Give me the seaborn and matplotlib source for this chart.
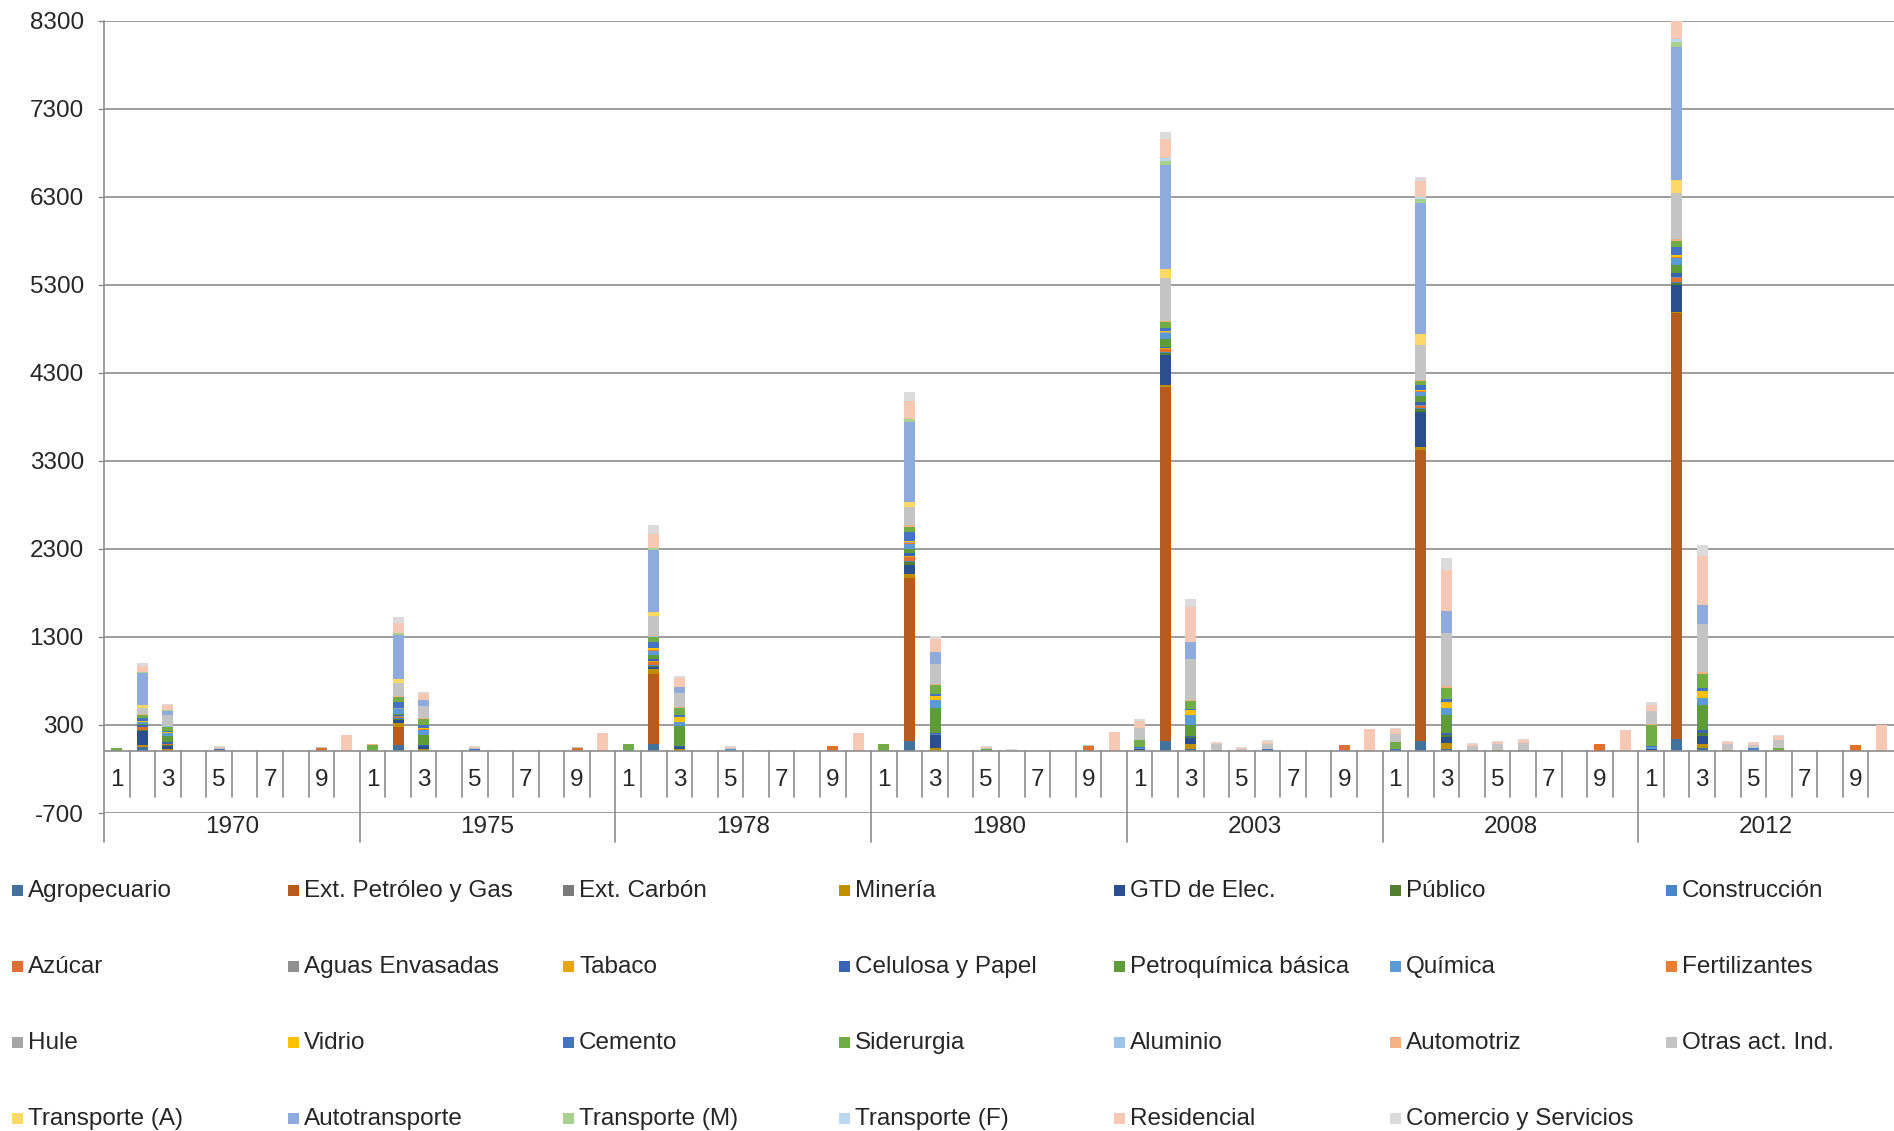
import numpy as np
import pandas as pd
import matplotlib
matplotlib.use("Agg")
import matplotlib.pyplot as plt
from matplotlib.patches import Rectangle
import seaborn as sns

# === DATA ===
anios = ["1970", "1975", "1978", "1980", "2003", "2008", "2012"]
subcategorias = [1, 2, 3, 4, 5, 6, 7, 8, 9, 10]
etiquetas_sub = ["1", "", "3", "", "5", "", "7", "", "9", ""]

sectores = ["Agropecuario", "Ext. Petróleo y Gas", "Ext. Carbón", "Minería", "GTD de Elec.",
            "Público", "Construcción", "Azúcar", "Aguas Envasadas", "Tabaco",
            "Celulosa y Papel", "Petroquímica básica", "Química", "Fertilizantes", "Hule",
            "Vidrio", "Cemento", "Siderurgia", "Aluminio", "Automotriz",
            "Otras act. Ind.", "Transporte (A)", "Autotransporte", "Transporte (M)",
            "Transporte (F)", "Residencial", "Comercio y Servicios"]

colores = ["#41719C", "#B85B1F", "#7B7B7B", "#BF8F00", "#2A4E8E",
           "#4F7F2F", "#4A87C6", "#E0702F", "#8F8F8F", "#E6A800",
           "#3A62B5", "#5E9C3A", "#5B9BD5", "#ED7D31", "#A5A5A5",
           "#FFC000", "#4472C4", "#70AD47", "#9DC3E6", "#F4B183",
           "#C4C4C4", "#FFD966", "#8FAADC", "#A9D18E",
           "#BDD7EE", "#F7C8B4", "#DBDBDB"]

# 7 years x 10 sub-categories each
agropecuario = [0, 45, 0, 0, 0, 0, 0, 0, 0, 0,  0, 68, 0, 0, 0, 0, 0, 0, 0, 0,  0, 87, 0, 0, 0, 0, 0, 0, 0, 0,
                0, 117, 0, 0, 0, 0, 0, 0, 0, 0,  0, 113, 26, 0, 0, 0, 0, 0, 0, 0,  0, 120, 29, 0, 0, 0, 0, 0, 0, 0,
                0, 142, 42, 0, 0, 0, 0, 0, 0, 0]
ext_petroleo_gas = [0, 0, 0, 0, 0, 0, 0, 0, 0, 0,  0, 212, 0, 0, 0, 0, 0, 0, 0, 0,  0, 795, 0, 0, 0, 0, 0, 0, 0, 0,
                    0, 1852, 0, 0, 0, 0, 0, 0, 0, 0,  0, 4025, 0, 0, 0, 0, 0, 0, 0, 0,  0, 3305, 0, 0, 0, 0, 0, 0, 0, 0,
                    0, 4835, 0, 0, 0, 0, 0, 0, 0, 0]
ext_carbon = [0, 0, 0, 0, 0, 0, 0, 0, 0, 0,  0, 0, 0, 0, 0, 0, 0, 0, 0, 0,  0, 0, 0, 0, 0, 0, 0, 0, 0, 0,
              0, 0, 0, 0, 0, 0, 0, 0, 0, 0,  0, 0, 0, 0, 0, 0, 0, 0, 0, 0,  0, 0, 0, 0, 0, 0, 0, 0, 0, 0,
              0, 0, 0, 0, 0, 0, 0, 0, 0, 0]
mineria = [0, 23, 23, 0, 10, 0, 0, 0, 0, 0,  0, 45, 23, 0, 0, 0, 0, 0, 0, 0,  0, 57, 27, 0, 0, 0, 0, 0, 0, 0,
           0, 49, 38, 0, 0, 0, 0, 0, 0, 0,  15, 26, 62, 0, 0, 0, 0, 0, 0, 0,  0, 33, 67, 0, 10, 0, 0, 0, 0, 0,
           15, 18, 42, 10, 0, 0, 0, 0, 0, 0]
gtd_elec = [0, 160, 40, 0, 0, 0, 0, 0, 0, 0,  0, 30, 38, 0, 0, 0, 0, 0, 0, 0,  0, 20, 23, 0, 0, 0, 0, 0, 0, 0,
            0, 102, 144, 0, 0, 0, 0, 0, 0, 0,  15, 334, 67, 0, 0, 0, 0, 0, 0, 0,  10, 397, 62, 0, 0, 0, 0, 0, 0, 0,
            15, 297, 89, 0, 0, 0, 0, 0, 0, 0]
publico = [0, 10, 10, 0, 0, 0, 0, 0, 0, 0,  0, 12, 0, 0, 0, 0, 0, 0, 0, 0,  0, 10, 0, 0, 0, 0, 0, 0, 0, 0,
           0, 30, 0, 0, 0, 0, 0, 0, 0, 0,  0, 26, 10, 0, 0, 0, 0, 0, 0, 0,  0, 33, 30, 0, 0, 0, 0, 0, 0, 0,
           0, 30, 35, 0, 0, 0, 0, 0, 0, 0]
construccion = [0, 10, 0, 0, 0, 0, 0, 0, 0, 0,  0, 10, 0, 0, 10, 0, 0, 0, 0, 0,  0, 8, 0, 0, 15, 0, 0, 0, 0, 0,
                0, 8, 15, 0, 10, 0, 0, 0, 0, 0,  0, 8, 0, 0, 0, 12, 0, 0, 0, 0,  0, 8, 0, 0, 0, 8, 0, 0, 0, 0,
                0, 8, 0, 0, 40, 0, 0, 0, 0, 0]
azucar = [0, 25, 5, 0, 0, 0, 0, 0, 40, 0,  0, 15, 0, 0, 0, 0, 0, 0, 42, 0,  0, 38, 0, 0, 0, 0, 0, 0, 60, 0,
          0, 45, 0, 0, 0, 0, 0, 0, 60, 0,  0, 36, 0, 0, 0, 0, 0, 0, 72, 0,  0, 30, 0, 0, 0, 0, 0, 0, 80, 0,
          0, 47, 0, 0, 0, 10, 0, 0, 71, 0]
aguas_envasadas = [0, 5, 0, 0, 0, 0, 0, 0, 0, 0,  0, 5, 0, 0, 0, 0, 0, 0, 0, 0,  0, 5, 0, 0, 0, 0, 0, 0, 0, 0,
                   0, 5, 0, 0, 0, 0, 0, 0, 0, 0,  0, 5, 0, 0, 0, 0, 0, 0, 0, 0,  0, 5, 0, 0, 0, 0, 0, 0, 0, 0,
                   0, 5, 0, 0, 0, 0, 0, 0, 0, 0]
tabaco = [0, 3, 5, 0, 0, 0, 0, 0, 0, 0,  0, 5, 0, 0, 0, 0, 0, 0, 0, 0,  0, 5, 0, 0, 0, 0, 0, 0, 0, 0,
          0, 5, 0, 0, 0, 0, 0, 0, 0, 0,  0, 5, 0, 0, 0, 0, 0, 0, 0, 0,  0, 5, 0, 0, 0, 0, 0, 0, 0, 0,
          0, 5, 0, 0, 0, 0, 0, 0, 0, 0]
celulosa_papel = [0, 15, 25, 0, 0, 0, 0, 0, 0, 0,  0, 10, 8, 0, 0, 0, 0, 0, 0, 0,  0, 25, 10, 0, 0, 0, 0, 0, 0, 0,
                  0, 38, 15, 0, 0, 0, 0, 0, 0, 0,  0, 15, 10, 0, 0, 0, 0, 0, 0, 0,  0, 27, 20, 0, 0, 0, 0, 0, 0, 0,
                  0, 40, 35, 0, 0, 0, 0, 0, 0, 0]
petroquimica = [0, 10, 65, 0, 0, 0, 0, 0, 0, 0,  0, 15, 121, 0, 0, 0, 0, 0, 0, 0,  0, 50, 227, 0, 0, 0, 0, 0, 0, 0,
                0, 49, 284, 0, 0, 0, 0, 0, 0, 0,  0, 87, 128, 0, 0, 0, 0, 0, 0, 0,  0, 76, 201, 0, 0, 0, 0, 0, 0, 0,
                0, 95, 279, 0, 0, 0, 0, 0, 0, 0]
quimica = [0, 25, 30, 0, 0, 0, 0, 0, 0, 0,  0, 50, 53, 0, 0, 0, 0, 0, 0, 0,  0, 38, 45, 0, 10, 0, 0, 0, 0, 0,
           0, 57, 83, 0, 10, 0, 0, 0, 0, 0,  10, 67, 113, 0, 0, 0, 0, 0, 0, 0,  10, 43, 86, 5, 0, 0, 0, 0, 0, 0,
           15, 83, 89, 10, 0, 10, 0, 0, 0, 0]
fertilizantes = [0, 5, 5, 0, 0, 0, 0, 0, 0, 0,  0, 5, 10, 0, 0, 0, 0, 0, 0, 0,  0, 8, 0, 0, 0, 0, 0, 0, 0, 0,
                 0, 13, 0, 0, 0, 0, 0, 0, 0, 0,  0, 8, 0, 0, 0, 0, 0, 0, 0, 0,  0, 8, 0, 0, 0, 0, 0, 0, 0, 0,
                 0, 8, 0, 0, 0, 0, 0, 0, 0, 0]
hule = [0, 3, 5, 0, 0, 0, 0, 0, 0, 0,  0, 5, 0, 0, 0, 0, 0, 0, 0, 0,  0, 5, 0, 0, 0, 0, 0, 0, 0, 0,
        0, 5, 0, 0, 0, 0, 0, 0, 0, 0,  0, 5, 0, 0, 0, 0, 0, 0, 0, 0,  0, 5, 0, 0, 0, 0, 0, 0, 0, 0,
        0, 5, 0, 0, 0, 0, 0, 0, 0, 0]
vidrio = [0, 8, 10, 0, 0, 0, 0, 0, 0, 0,  0, 10, 15, 0, 0, 0, 0, 0, 0, 0,  0, 19, 53, 0, 0, 0, 0, 0, 0, 0,
          0, 13, 45, 0, 0, 0, 0, 0, 0, 0,  0, 10, 51, 0, 0, 0, 0, 0, 0, 0,  0, 14, 67, 0, 0, 0, 0, 0, 0, 0,
          0, 18, 77, 0, 0, 0, 0, 0, 0, 0]
cemento = [0, 35, 10, 0, 15, 0, 0, 0, 0, 0,  0, 65, 30, 0, 15, 0, 0, 0, 0, 0,  0, 76, 23, 0, 0, 0, 0, 0, 0, 0,
           0, 98, 30, 0, 0, 0, 0, 0, 0, 0,  10, 41, 15, 0, 0, 13, 0, 0, 0, 0,  8, 48, 29, 0, 10, 0, 0, 0, 0, 0,
           15, 89, 30, 0, 0, 0, 0, 0, 0, 0]
siderurgia = [35, 30, 45, 0, 0, 0, 0, 0, 0, 0,  75, 57, 72, 0, 0, 0, 0, 0, 0, 0,  80, 57, 83, 0, 0, 0, 0, 0, 0, 0,
              80, 57, 95, 0, 5, 0, 0, 0, 0, 0,  77, 61, 87, 10, 0, 0, 0, 0, 0, 0,  82, 48, 129, 5, 0, 10, 0, 0, 0, 0,
              244, 71, 166, 0, 0, 15, 0, 0, 0, 0]
aluminio = [0, 3, 5, 0, 0, 0, 0, 0, 0, 0,  0, 3, 0, 0, 0, 0, 0, 0, 0, 0,  0, 3, 0, 0, 0, 0, 0, 0, 0, 0,
            0, 3, 0, 0, 0, 0, 0, 0, 0, 0,  0, 3, 0, 0, 0, 0, 0, 0, 0, 0,  0, 3, 0, 0, 0, 0, 0, 0, 0, 0,
            0, 3, 0, 0, 0, 0, 0, 0, 0, 0]
automotriz = [0, 5, 5, 0, 0, 0, 0, 0, 0, 0,  6, 5, 5, 0, 0, 0, 0, 0, 0, 0,  0, 15, 15, 0, 0, 0, 0, 0, 0, 0,
              0, 23, 19, 0, 0, 0, 0, 0, 0, 0,  5, 10, 15, 0, 0, 0, 0, 0, 0, 0,  0, 10, 24, 0, 0, 0, 0, 0, 0, 0,
              5, 18, 18, 0, 0, 0, 0, 0, 0, 0]
otras_ind = [0, 75, 130, 0, 15, 0, 0, 0, 5, 0,  0, 155, 140, 0, 15, 0, 0, 0, 8, 0,  0, 216, 159, 0, 10, 0, 0, 0, 0, 0,
             0, 208, 220, 0, 10, 0, 0, 0, 8, 0,  135, 493, 463, 70, 25, 60, 0, 0, 5, 0,  90, 397, 598, 55, 60, 80, 0, 0, 5, 0,
             144, 522, 540, 60, 35, 95, 0, 0, 0, 0]
transporte_a = [0, 26, 0, 0, 0, 0, 0, 0, 0, 0,  0, 45, 0, 0, 0, 0, 0, 0, 0, 0,  0, 42, 0, 0, 0, 0, 0, 0, 0, 0,
                0, 53, 0, 0, 0, 0, 0, 0, 0, 0,  0, 102, 0, 0, 0, 0, 0, 0, 0, 0,  0, 129, 0, 0, 0, 0, 0, 0, 0, 0,
                0, 148, 0, 0, 0, 0, 0, 0, 0, 0]
autotransporte = [0, 370, 45, 0, 0, 0, 0, 0, 0, 0,  0, 500, 64, 0, 0, 0, 0, 0, 0, 0,  0, 708, 68, 0, 0, 0, 0, 0, 0, 0,
                  0, 916, 140, 0, 0, 0, 0, 0, 0, 0,  0, 1177, 190, 0, 0, 0, 0, 0, 0, 0,  0, 1483, 249, 0, 0, 0, 0, 0, 0, 0,
                  0, 1513, 225, 0, 0, 0, 0, 0, 0, 0]
transporte_m = [0, 8, 3, 0, 0, 0, 0, 0, 0, 0,  0, 15, 0, 0, 0, 0, 0, 0, 0, 0,  0, 23, 0, 0, 0, 0, 0, 0, 0, 0,
                0, 26, 0, 0, 0, 0, 0, 0, 0, 0,  0, 51, 0, 0, 0, 0, 0, 0, 0, 0,  0, 48, 0, 0, 0, 0, 0, 0, 0, 0,
                0, 53, 0, 0, 0, 0, 0, 0, 0, 0]
transporte_f = [0, 5, 0, 0, 0, 0, 0, 0, 0, 0,  0, 5, 0, 0, 0, 0, 0, 0, 0, 0,  0, 5, 0, 0, 0, 0, 0, 0, 0, 0,
                0, 5, 0, 0, 0, 0, 0, 0, 0, 0,  0, 26, 0, 0, 0, 0, 0, 0, 0, 0,  0, 19, 0, 0, 0, 0, 0, 0, 0, 0,
                0, 36, 0, 0, 0, 0, 0, 0, 0, 0]
residencial = [0, 64, 55, 0, 15, 0, 0, 0, 0, 185,  0, 106, 87, 0, 15, 0, 0, 0, 0, 205,  0, 155, 98, 0, 15, 0, 0, 0, 0, 205,
               0, 201, 151, 0, 12, 15, 0, 0, 0, 220,  77, 221, 401, 15, 15, 25, 0, 0, 0, 255,
               55, 182, 469, 20, 25, 30, 0, 0, 0, 245,  72, 249, 546, 25, 20, 40, 0, 0, 0, 295]
comercio = [0, 38, 20, 0, 10, 0, 0, 0, 0, 0,  0, 68, 8, 0, 10, 12, 0, 0, 0, 0,  0, 95, 23, 0, 10, 15, 0, 0, 0, 0,
            0, 106, 26, 0, 10, 8, 0, 0, 0, 0,  26, 77, 87, 8, 10, 15, 0, 0, 0, 0,  15, 48, 134, 10, 15, 15, 0, 0, 0, 0,
            33, 60, 125, 13, 12, 20, 0, 0, 0, 0]

valores = [agropecuario, ext_petroleo_gas, ext_carbon, mineria, gtd_elec, publico, construccion,
           azucar, aguas_envasadas, tabaco, celulosa_papel, petroquimica, quimica, fertilizantes,
           hule, vidrio, cemento, siderurgia, aluminio, automotriz, otras_ind, transporte_a,
           autotransporte, transporte_m, transporte_f, residencial, comercio]

n_pos = len(anios) * len(subcategorias)

# long table for seaborn
filas = []
for nombre, serie in zip(sectores, valores):
    assert len(serie) == n_pos, nombre
    for i, v in enumerate(serie):
        filas.append({"posicion": i, "sector": nombre, "valor": v})
df = pd.DataFrame(filas)

# === FIGURE ===
sns.set_style("white")
plt.rcParams["font.family"] = ["Liberation Sans", "DejaVu Sans"]
plt.rcParams["axes.unicode_minus"] = False

FS = 17.5
W, H = 1894, 1131
fig = plt.figure(figsize=(W / 100, H / 100), dpi=100)
ax = fig.add_axes([104 / W, 1 - 813 / H, 1790 / W, (813 - 20.5) / H])

GRIS = "#8C8C8C"
ax.set_axisbelow(True)
ax.yaxis.grid(True, color=GRIS, linewidth=1.2)

# seaborn stacks the first hue level on top, so reverse the order
sns.histplot(data=df, x="posicion", weights="valor", hue="sector",
             hue_order=sectores[::-1], palette=dict(zip(sectores, colores)),
             multiple="stack", discrete=True, shrink=0.43, linewidth=0,
             alpha=1, legend=False, ax=ax)

ax.set_xlim(-0.5, n_pos - 0.5)
ax.set_ylim(-700, 8300)
ax.set_yticks(np.arange(-700, 8301, 1000))
ax.set_xticks([])
ax.set_xlabel("")
ax.set_ylabel("")
ax.tick_params(axis="y", left=True, length=4.5, width=1, color=GRIS, pad=10, labelsize=FS)
for s in ["top", "right", "bottom", "left"]:
    ax.spines[s].set_visible(False)

# y axis line, running down through the category label area
ax.plot([-0.5, -0.5], [-1029, 8300], color=GRIS, lw=1.2, clip_on=False, zorder=3)

# category axis at zero
ax.plot([-0.5, n_pos - 0.5], [0, 0], color=GRIS, lw=1.2, zorder=3)
for k in range(1, n_pos):
    if k % 10 == 0:
        ax.plot([k - 0.5, k - 0.5], [0, -1029], color=GRIS, lw=1.2, clip_on=False, zorder=3)
    else:
        ax.plot([k - 0.5, k - 0.5], [0, -518], color=GRIS, lw=1.2, zorder=3)

for g, anio in enumerate(anios):
    for s, etq in enumerate(etiquetas_sub):
        if etq:
            ax.text(g * 10 + s, -330, etq, ha="center", va="center", fontsize=FS)
    ax.text(g * 10 + 4.5, -860, anio, ha="center", va="center", fontsize=FS, clip_on=False)

# legend, 7 columns laid out row by row
for i, (nombre, col) in enumerate(zip(sectores, colores)):
    r, c = divmod(i, 7)
    x0 = 12 + 275.6 * c
    yc = 890 + 76 * r
    fig.patches.append(Rectangle((x0 / W, 1 - (yc + 6) / H), 11 / W, 11 / H,
                                 transform=fig.transFigure, facecolor=col, edgecolor="none"))
    fig.text((x0 + 16) / W, 1 - (yc + 1) / H, nombre, ha="left", va="center", fontsize=FS)

fig.savefig("out.png", dpi=100)
